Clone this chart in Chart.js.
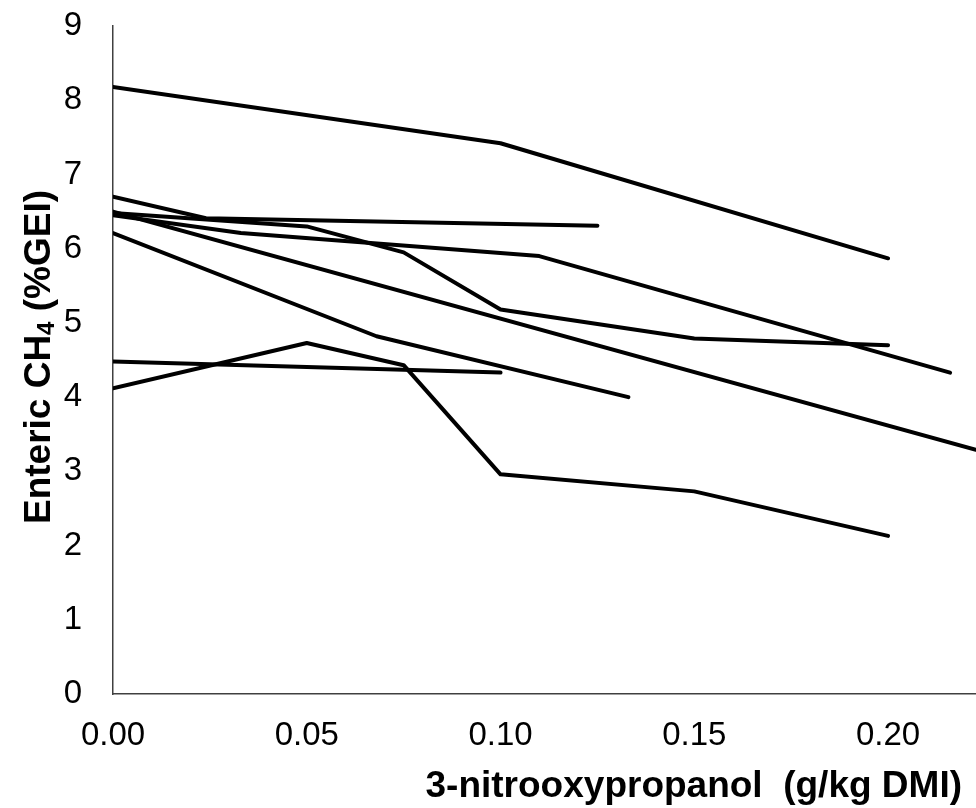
<!DOCTYPE html>
<html>
<head>
<meta charset="utf-8">
<script src="https://cdn.jsdelivr.net/npm/chart.js@4.4.1/dist/chart.umd.min.js"></script>
<style>
  html, body { margin: 0; padding: 0; background: #ffffff; overflow: hidden; }
  canvas { display: block; }
</style>
</head>
<body>
<canvas id="chart" width="976" height="808"></canvas>
<script>
// 3-NOP dose (g/kg DMI) and enteric CH4 yield (% of GEI), one pair of arrays per trial
const doseA = [0, 0.10, 0.20];
const ch4A  = [8.18, 7.42, 5.87];
const doseB = [0, 0.024, 0.125];
const ch4B  = [6.70, 6.41, 6.31];
const doseC = [0, 0.05, 0.075, 0.10, 0.15, 0.20];
const ch4C  = [6.48, 6.30, 5.95, 5.18, 4.79, 4.70];
const doseD = [0, 0.033, 0.11, 0.216];
const ch4D  = [6.45, 6.21, 5.90, 4.33];
const doseE = [0, 0.2227];
const ch4E  = [6.50, 3.29];
const doseF = [0, 0.068, 0.133];
const ch4F  = [6.21, 4.82, 4.00];
const doseG = [0, 0.10];
const ch4G  = [4.48, 4.33];
const doseH = [0, 0.05, 0.075, 0.10, 0.15, 0.20];
const ch4H  = [4.12, 4.73, 4.43, 2.96, 2.73, 2.13];

const xTicks = [0, 0.05, 0.10, 0.15, 0.20];
const yTicks = [0, 1, 2, 3, 4, 5, 6, 7, 8, 9];
const xMax = 0.2227;

const xTitle = '3-nitrooxypropanol  (g/kg DMI)';
const yTitleHead = 'Enteric CH';
const yTitleSub = '4';
const yTitleTail = ' (%GEI)';

const FAMILY = '"Liberation Sans", Arial, Helvetica, sans-serif';

const trials = [
  [doseA, ch4A], [doseB, ch4B], [doseC, ch4C], [doseD, ch4D],
  [doseE, ch4E], [doseF, ch4F], [doseG, ch4G], [doseH, ch4H]
];

const datasets = trials.map(([xs, ys]) => ({
  data: xs.map((x, i) => ({ x: x, y: ys[i] })),
  showLine: true,
  borderColor: '#000000',
  borderWidth: 4,
  borderJoinStyle: 'round',
  borderCapStyle: 'round',
  pointRadius: 0,
  pointHoverRadius: 0,
  tension: 0,
  fill: false
}));

// axis titles: the y title carries a subscript, so both are drawn here
const axisTitles = {
  id: 'axisTitles',
  afterDraw(chart) {
    const ctx = chart.ctx;
    ctx.save();
    ctx.fillStyle = '#000000';
    ctx.textBaseline = 'alphabetic';

    // x title
    ctx.font = 'bold 37px ' + FAMILY;
    ctx.textAlign = 'right';
    ctx.fillText(xTitle, 962, 797);

    // y title, rotated
    const mainFont = 'bold 37px ' + FAMILY;
    const subFont = 'bold 24px ' + FAMILY;
    ctx.font = mainFont;
    const wHead = ctx.measureText(yTitleHead).width;
    const wTail = ctx.measureText(yTitleTail).width;
    ctx.font = subFont;
    const wSub = ctx.measureText(yTitleSub).width;
    const total = wHead + wSub + wTail;
    const cy = (chart.chartArea.top + chart.chartArea.bottom) / 2 - 3;
    ctx.translate(50, cy);
    ctx.rotate(-Math.PI / 2);
    ctx.textAlign = 'left';
    let x = -total / 2;
    ctx.font = mainFont;
    ctx.fillText(yTitleHead, x, 0);
    x += wHead;
    ctx.font = subFont;
    ctx.fillText(yTitleSub, x, 4);
    x += wSub;
    ctx.font = mainFont;
    ctx.fillText(yTitleTail, x, 0);
    ctx.restore();
  }
};

new Chart(document.getElementById('chart'), {
  type: 'scatter',
  data: { datasets: datasets },
  options: {
    responsive: false,
    animation: false,
    devicePixelRatio: 1,
    layout: { padding: { top: 26, right: 0, bottom: 0, left: 0 } },
    plugins: {
      legend: { display: false },
      tooltip: { enabled: false },
      title: { display: false }
    },
    scales: {
      x: {
        type: 'linear',
        min: 0,
        max: xMax,
        grid: { display: false, drawTicks: false },
        border: { display: true, color: '#404040', width: 1.5 },
        afterBuildTicks: s => { s.ticks = xTicks.map(v => ({ value: v })); },
        afterFit: s => { s.height = 114; s.paddingLeft = 0; s.paddingRight = 0; },
        ticks: {
          padding: 22,
          color: '#000000',
          font: { family: FAMILY, size: 33 },
          maxRotation: 0,
          autoSkip: false,
          callback: v => Number(v).toFixed(2)
        },
        title: { display: false }
      },
      y: {
        type: 'linear',
        min: 0,
        max: 9,
        grid: { display: false, drawTicks: false },
        border: { display: true, color: '#404040', width: 1.5 },
        afterBuildTicks: s => { s.ticks = yTicks.map(v => ({ value: v })); },
        afterFit: s => { s.width = 113; s.paddingTop = 0; s.paddingBottom = 0; },
        ticks: {
          padding: 31,
          color: '#000000',
          font: { family: FAMILY, size: 33 },
          autoSkip: false,
          callback: v => String(v)
        },
        title: { display: false }
      }
    }
  },
  plugins: [axisTitles]
});
</script>
</body>
</html>
